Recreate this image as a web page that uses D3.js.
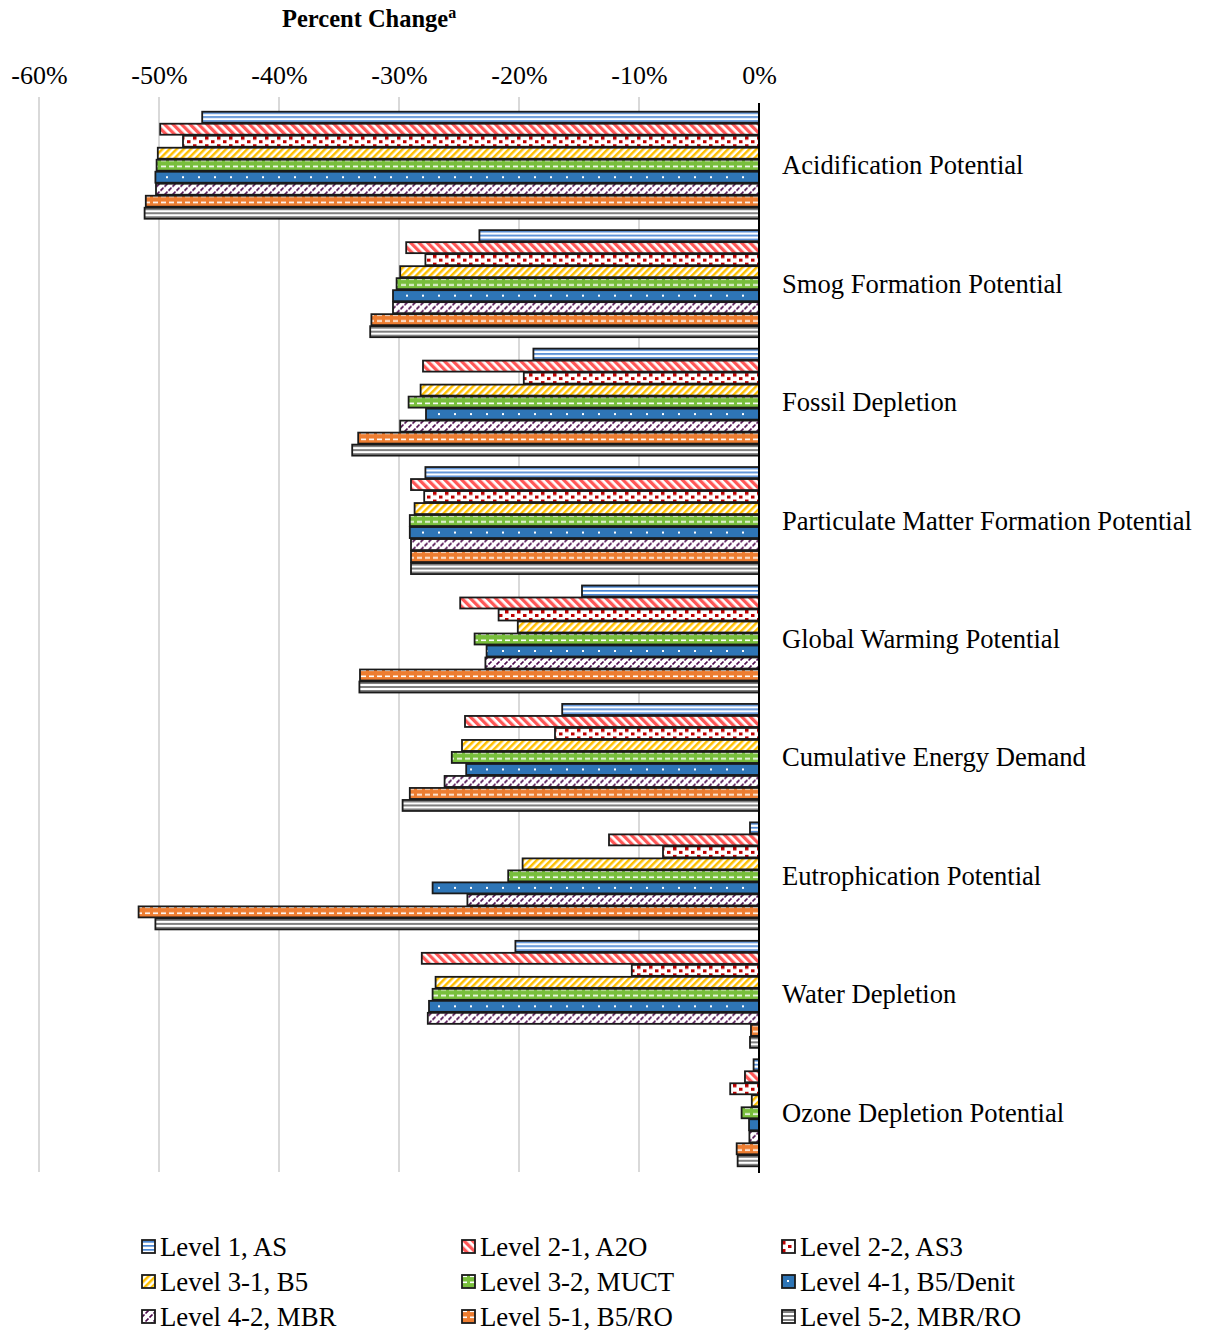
<!DOCTYPE html>
<html><head><meta charset="utf-8">
<script src="https://cdn.jsdelivr.net/npm/d3@7"></script>
<style>
html,body{margin:0;padding:0;background:#fff;}
svg{display:block;}
svg text{font-family:"Liberation Serif","Times New Roman",serif !important;}
</style></head>
<body>
<svg id="chart" width="1205" height="1333"></svg>
<script>
const categories = ["Acidification Potential","Smog Formation Potential","Fossil Depletion","Particulate Matter Formation Potential","Global Warming Potential","Cumulative Energy Demand","Eutrophication Potential","Water Depletion","Ozone Depletion Potential"];
const seriesNames = ["Level 1, AS","Level 2-1, A2O","Level 2-2, AS3","Level 3-1, B5","Level 3-2, MUCT","Level 4-1, B5/Denit","Level 4-2, MBR","Level 5-1, B5/RO","Level 5-2, MBR/RO"];
// values in percent change, per series, in category order
const level1   = [-46.4,-23.3,-18.8,-27.8,-14.75,-16.4,-0.75,-20.3,-0.45];
const level2_1 = [-49.9,-29.4,-28.0,-29.0,-24.9,-24.5,-12.5,-28.1,-1.17];
const level2_2 = [-48.0,-27.8,-19.6,-27.9,-21.7,-17.0,-8.0,-10.6,-2.4];
const level3_1 = [-50.1,-29.9,-28.2,-28.7,-20.1,-24.75,-19.7,-26.95,-0.6];
const level3_2 = [-50.2,-30.2,-29.2,-29.1,-23.7,-25.6,-20.9,-27.2,-1.45];
const level4_1 = [-50.3,-30.5,-27.75,-29.1,-22.7,-24.4,-27.2,-27.5,-0.83];
const level4_2 = [-50.25,-30.5,-29.9,-29.0,-22.8,-26.2,-24.3,-27.6,-0.8];
const level5_1 = [-51.1,-32.3,-33.4,-29.0,-33.25,-29.1,-51.7,-0.67,-1.86];
const level5_2 = [-51.2,-32.4,-33.9,-29.0,-33.3,-29.7,-50.3,-0.75,-1.78];
const seriesValues = [level1,level2_1,level2_2,level3_1,level3_2,level4_1,level4_2,level5_1,level5_2];
const tickValues = [-60,-50,-40,-30,-20,-10,0];
const tickLabels = ["-60%","-50%","-40%","-30%","-20%","-10%","0%"];

const svg = d3.select("#chart");
const defs = svg.append("defs");

function pat(id,w,h,bg,rot){
  const p = defs.append("pattern").attr("id",id).attr("patternUnits","userSpaceOnUse")
    .attr("width",w).attr("height",h);
  if(rot!==undefined) p.attr("patternTransform",`rotate(${rot})`);
  p.append("rect").attr("width",w).attr("height",h).attr("fill",bg);
  return p;
}
let p;
p = pat("p0",4,4,"#fff"); p.append("rect").attr("y",1).attr("width",4).attr("height",1.7).attr("fill","#4a86d4");
p = pat("p1",6,6,"#fff",-45); p.append("rect").attr("width",3.3).attr("height",6).attr("fill","#ff5757");
p = pat("p2",12,8,"#fff"); p.append("rect").attr("x",1).attr("y",1).attr("width",3.5).attr("height",3.5).attr("fill","#c00000");
p.append("rect").attr("x",7).attr("y",5).attr("width",3.5).attr("height",3).attr("fill","#c00000");
p = pat("p3",5,5,"#fff",45); p.append("rect").attr("width",2.5).attr("height",5).attr("fill","#ffc000");
p = pat("p4",8,6,"#78be3c"); p.append("rect").attr("x",1).attr("y",0.5).attr("width",5).attr("height",1.6).attr("fill","#fff");
p = pat("p5",16,12,"#2e75b6"); p.append("rect").attr("x",6).attr("y",5).attr("width",2).attr("height",2).attr("fill","#fff");
p = pat("p6",8,8,"#fff");
p.append("path").attr("d","M0.5,7.5 L3.5,4.5 M4.5,3.5 L7.5,0.5").attr("stroke","#4d0a4d").attr("stroke-width",1.7).attr("fill","none");
p = pat("p7",8,6,"#ed7d31"); p.append("rect").attr("x",1).attr("y",0.5).attr("width",5).attr("height",1.6).attr("fill","#fff");
p = pat("p8",4,4,"#fff"); p.append("rect").attr("y",1).attr("width",4).attr("height",2).attr("fill","#808080");

const x = d3.scaleLinear().domain([-60,0]).range([39,759]);
const y0 = d3.scaleBand().domain(categories).range([106,1172]).paddingInner(0.088).paddingOuter(0.044);
const y1 = d3.scaleBand().domain(d3.range(seriesNames.length)).range([0,y0.bandwidth()]);

svg.append("g").selectAll("line").data(tickValues.filter(d=>d!==0)).join("line")
  .attr("x1",d=>x(d)).attr("x2",d=>x(d)).attr("y1",97).attr("y2",1172)
  .attr("stroke","#d9d9d9").attr("stroke-width",2);

const axis = d3.axisTop(x).tickValues(tickValues).tickFormat((d,i)=>tickLabels[i]).tickSize(0).tickPadding(0);
const ag = svg.append("g").attr("transform","translate(0,84)").call(axis);
ag.attr("font-family",null).attr("font-size",null);
ag.select(".domain").remove();
ag.selectAll("text").attr("font-size",26).attr("fill","#000").attr("dy",0)
  .style("font-family","'Liberation Serif','Times New Roman',serif");

const title = svg.append("text").attr("x",282).attr("y",27).attr("font-size",24.5).attr("font-weight","bold").attr("fill","#000");
title.append("tspan").text("Percent Change");
title.append("tspan").text("a").attr("font-size",16).attr("dy",-9);

const groups = svg.append("g").selectAll("g").data(categories).join("g");
groups.each(function(cat,ci){
  const g = d3.select(this);
  seriesValues.forEach((vals,si)=>{
    const v = vals[ci];
    const bg = g.append("g").attr("transform",`translate(0,${y0(cat)+y1(si)})`);
    bg.append("rect").attr("x",x(v)).attr("y",0.5).attr("width",x(0)-x(v)).attr("height",y1.bandwidth()-1)
      .attr("fill",`url(#p${si})`).attr("stroke","#1a1a1a").attr("stroke-width",1.8);
  });
});

svg.append("line").attr("x1",x(0)).attr("x2",x(0)).attr("y1",103).attr("y2",1173).attr("stroke","#000").attr("stroke-width",2);

svg.append("g").selectAll("text").data(categories).join("text")
  .attr("x",782).attr("y",d=>y0(d)+y0.bandwidth()/2+9).attr("font-size",26.6).attr("fill","#000").text(d=>d);

const lg = svg.append("g");
seriesNames.forEach((name,i)=>{
  const col = i%3, row = Math.floor(i/3);
  const lx = 141 + col*320, ly = 1240 + row*35;
  const it = lg.append("g").attr("transform",`translate(${lx},${ly})`);
  it.append("rect").attr("x",1).attr("y",0).attr("width",13).attr("height",13)
    .attr("fill",`url(#p${i})`).attr("stroke","#1a1a1a").attr("stroke-width",1.8);
  it.append("text").attr("x",19).attr("y",16).attr("font-size",26.8).attr("fill","#000").text(name);
});
</script>
</body></html>
